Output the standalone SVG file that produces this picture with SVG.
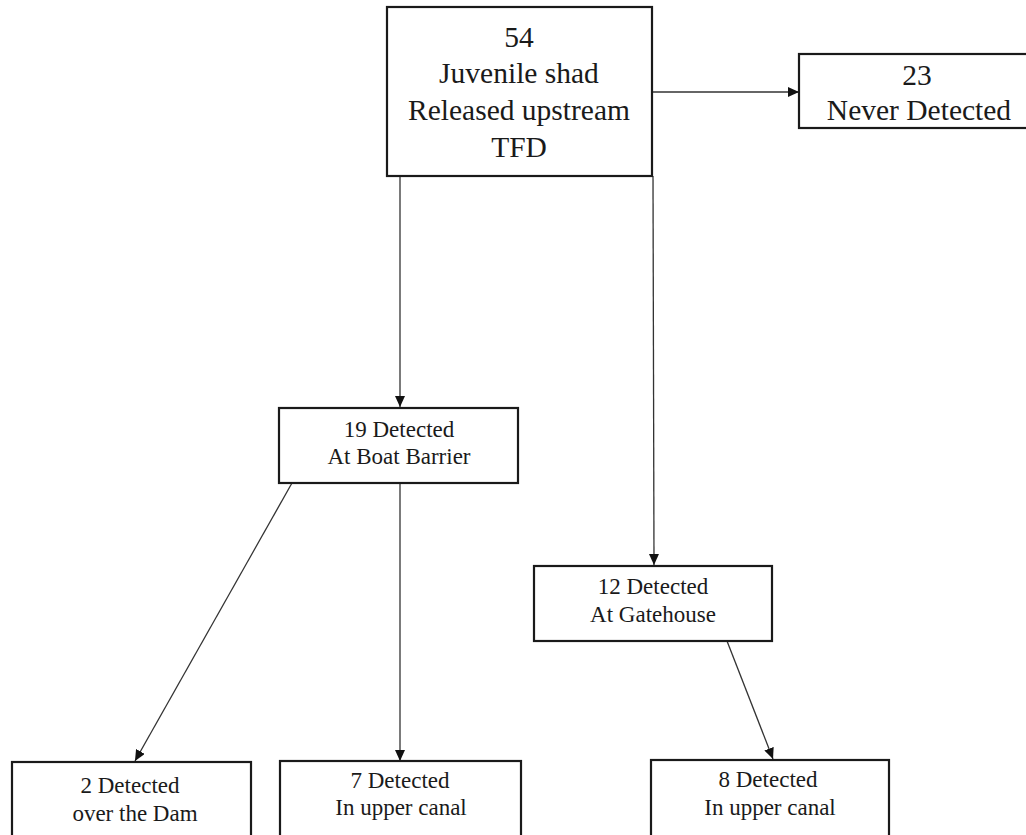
<svg xmlns="http://www.w3.org/2000/svg" width="1026" height="835" viewBox="0 0 1026 835">
<style>
.box{fill:#fff;stroke:#1a1a1a;stroke-width:2.2}
.t{font-family:'Liberation Serif','Times New Roman','DejaVu Serif',serif;fill:#1a1a1a;text-anchor:middle}
.big{font-size:29.5px}
.sm{font-size:23px}
.c{stroke:#333;stroke-width:1.3;fill:none;marker-end:url(#ah)}
</style>
<defs>
<marker id="ah" markerUnits="userSpaceOnUse" markerWidth="12" markerHeight="10" refX="11" refY="5" orient="auto">
<path d="M0,0 L11,5 L0,10 z" fill="#111"/>
</marker>
</defs>
<rect width="1026" height="835" fill="#fff"/>
<g id="connectors">
<line class="c" x1="652" y1="92" x2="799" y2="92"/>
<line class="c" x1="400" y1="176" x2="400" y2="407"/>
<line class="c" x1="653" y1="176" x2="654" y2="565"/>
<line class="c" x1="292" y1="483" x2="135" y2="761"/>
<line class="c" x1="400" y1="483" x2="400" y2="761"/>
<line class="c" x1="727" y1="641" x2="773" y2="759"/>
</g>
<g id="released">
<rect class="box" x="387" y="7" width="265" height="169"/>
<text class="t big" font-family="Liberation Serif, serif" x="519" y="47">54</text>
<text class="t big" font-family="Liberation Serif, serif" x="519" y="83">Juvenile shad</text>
<text class="t big" font-family="Liberation Serif, serif" x="519" y="120">Released upstream</text>
<text class="t big" font-family="Liberation Serif, serif" x="519" y="157">TFD</text>
</g>
<g id="never">
<rect class="box" x="799" y="54" width="240" height="74"/>
<text class="t big" x="917" y="85">23</text>
<text class="t big" x="919" y="120">Never Detected</text>
</g>
<g id="boatbarrier">
<rect class="box" x="279" y="408" width="239" height="75"/>
<text class="t sm" x="399" y="437">19 Detected</text>
<text class="t sm" x="399" y="464">At Boat Barrier</text>
</g>
<g id="gatehouse">
<rect class="box" x="534" y="566" width="238" height="75"/>
<text class="t sm" x="653" y="594">12 Detected</text>
<text class="t sm" x="653" y="622">At Gatehouse</text>
</g>
<g id="dam">
<rect class="box" x="12" y="762" width="239" height="80"/>
<text class="t sm" x="130" y="793">2 Detected</text>
<text class="t sm" x="135" y="821">over the Dam</text>
</g>
<g id="canal1">
<rect class="box" x="280" y="761" width="241" height="80"/>
<text class="t sm" x="400" y="788">7 Detected</text>
<text class="t sm" x="401" y="815">In upper canal</text>
</g>
<g id="canal2">
<rect class="box" x="651" y="760" width="238" height="80"/>
<text class="t sm" x="768" y="787">8 Detected</text>
<text class="t sm" x="770" y="815">In upper canal</text>
</g>
</svg>
